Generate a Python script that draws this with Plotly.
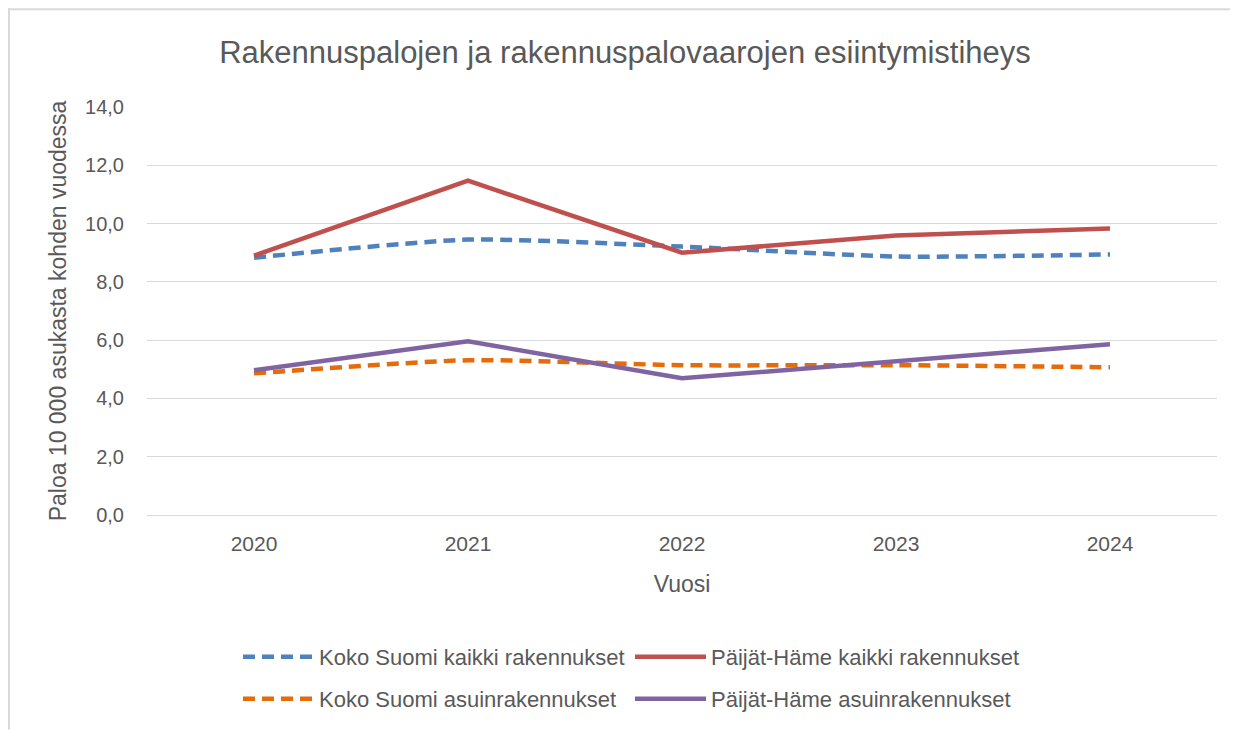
import plotly.graph_objects as go

years = ["2020", "2021", "2022", "2023", "2024"]
koko_kaikki = [8.83, 9.45, 9.21, 8.87, 8.94]
ph_kaikki = [8.90, 11.47, 9.00, 9.59, 9.83]
koko_asuin = [4.86, 5.31, 5.14, 5.14, 5.07]
ph_asuin = [4.97, 5.96, 4.69, 5.27, 5.86]
y_ticks = [0, 2, 4, 6, 8, 10, 12, 14]
y_tick_labels = ["0,0", "2,0", "4,0", "6,0", "8,0", "10,0", "12,0", "14,0"]

FONT = "Liberation Sans Narrow, Liberation Sans, Arial, sans-serif"
GREY = "#595959"

# figure sits at (8,8) in the page (default body margin)
W, H = 1230, 723
L, R, T, B = 139, 21, 99, 215
PW, PH = W - L - R, H - T - B


def px(fx):
    return (fx - L) / PW


def py(fy):
    return (H - B - fy) / PH


fig = go.Figure()
fig.add_trace(go.Scatter(x=years, y=koko_kaikki, mode="lines", name="Koko Suomi kaikki rakennukset",
                         legend="legend",
                         line=dict(color="#4f81bd", width=4.5, dash="12px,7px", shape="spline", smoothing=0.6)))
fig.add_trace(go.Scatter(x=years, y=ph_kaikki, mode="lines", name="Päijät-Häme kaikki rakennukset",
                         legend="legend2",
                         line=dict(color="#c0504d", width=4.5)))
fig.add_trace(go.Scatter(x=years, y=koko_asuin, mode="lines", name="Koko Suomi asuinrakennukset",
                         legend="legend3",
                         line=dict(color="#e46c0a", width=4.5, dash="12px,7px", shape="spline", smoothing=0.6)))
fig.add_trace(go.Scatter(x=years, y=ph_asuin, mode="lines", name="Päijät-Häme asuinrakennukset",
                         legend="legend4",
                         line=dict(color="#8064a2", width=4.5)))

leg_common = dict(orientation="h", xanchor="left", yanchor="middle",
                  font=dict(size=22, color=GREY, family=FONT), itemwidth=71,
                  bgcolor="rgba(0,0,0,0)")

fig.update_layout(
    width=W, height=H,
    margin=dict(l=L, r=R, t=T, b=B),
    paper_bgcolor="white", plot_bgcolor="white",
    font=dict(family=FONT, color=GREY, size=18),
    title=dict(text="Rakennuspalojen ja rakennuspalovaarojen esiintymistiheys",
               x=617 / W, xanchor="center", y=1 - 44 / H, yanchor="middle",
               font=dict(size=31, color=GREY, family=FONT)),
    xaxis=dict(type="category", range=[-0.5, 4.5], showgrid=False, showline=False,
               ticks="", tickfont=dict(size=21, color=GREY), ticklabelstandoff=14,
               title=dict(text="Vuosi", font=dict(size=23, color=GREY), standoff=21)),
    yaxis=dict(range=[0, 14], tickvals=y_ticks, ticktext=y_tick_labels,
               showgrid=True, gridcolor="#d9d9d9", gridwidth=1, zeroline=True,
               zerolinecolor="#d9d9d9", zerolinewidth=1, showline=False, ticks="",
               tickfont=dict(size=20, color=GREY), ticklabelstandoff=22,
               title=dict(text="Paloa 10 000 asukasta kohden vuodessa",
                          font=dict(size=23, color=GREY), standoff=12)),
    showlegend=True,
    legend=dict(x=px(230), y=py(649), **leg_common),
    legend2=dict(x=px(622), y=py(649), **leg_common),
    legend3=dict(x=px(230), y=py(691), **leg_common),
    legend4=dict(x=px(622), y=py(691), **leg_common),
    shapes=[
        dict(type="line", xref="paper", yref="paper", x0=px(0), x1=px(W), y0=py(1), y1=py(1),
             line=dict(color="#d9d9d9", width=2), layer="below"),
        dict(type="line", xref="paper", yref="paper", x0=px(1), x1=px(1), y0=py(0), y1=py(H),
             line=dict(color="#d9d9d9", width=2), layer="below"),
    ],
)

fig.write_html("out.html")
